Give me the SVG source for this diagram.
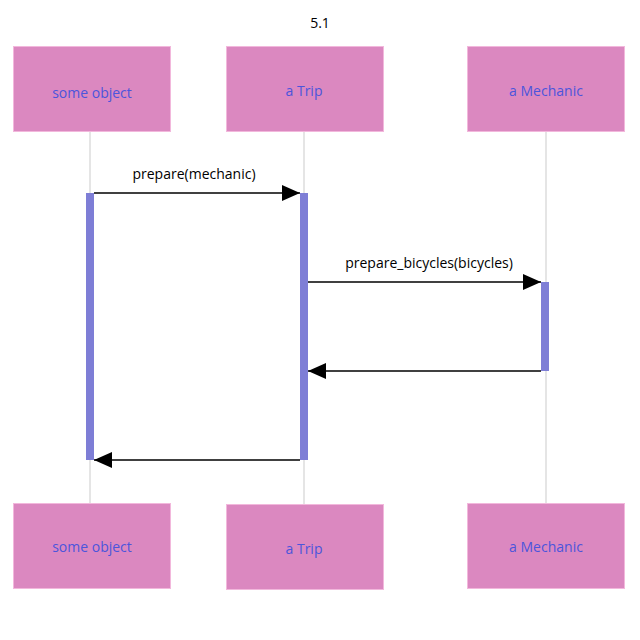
<svg xmlns="http://www.w3.org/2000/svg" width="640" height="640" viewBox="0 0 640 640">
<style>
.actor{fill:#DB88C0;stroke:#F2B8DC;stroke-width:1}
.atext{font-family:"Open Sans","Noto Sans",sans-serif;font-size:14px;fill:#4B55DC;text-anchor:middle;dominant-baseline:central}
.life{stroke:#DDDDDD;stroke-width:1.5}
.act{fill:#7E7ED6}
.msg{stroke:#000;stroke-width:1.3;fill:none}
.mtext{font-family:"Open Sans","Noto Sans",sans-serif;font-size:14px;fill:#000;text-anchor:middle}
.title{font-family:"Open Sans","Noto Sans",sans-serif;font-size:14px;fill:#000;text-anchor:middle}
</style>
<defs>
<marker id="ah" markerWidth="18" markerHeight="16" refX="18" refY="8" orient="auto" markerUnits="userSpaceOnUse">
<path d="M0,0 L18,8 L0,16 Z" fill="#000"/>
</marker>
</defs>
<rect width="640" height="640" fill="#fff"/>
<text class="title" x="320" y="28">5.1</text>
<g id="lifelines">
<line class="life" x1="90" y1="131" x2="90" y2="503"/>
<line class="life" x1="304" y1="131" x2="304" y2="504"/>
<line class="life" x1="546" y1="131" x2="546" y2="503"/>
</g>
<g id="activations">
<rect class="act" x="86" y="193" width="8" height="267"/>
<rect class="act" x="300" y="193" width="8" height="267"/>
<rect class="act" x="541" y="282" width="8" height="89"/>
</g>
<g id="node-someobject-top"><rect class="actor" x="13.5" y="46.5" width="157" height="85"/><text class="atext" x="92" y="92">some object</text></g>
<g id="node-trip-top"><rect class="actor" x="226.5" y="46.5" width="157" height="85"/><text class="atext" x="304" y="90">a Trip</text></g>
<g id="node-mechanic-top"><rect class="actor" x="467.5" y="46.5" width="157" height="85"/><text class="atext" x="546" y="90">a Mechanic</text></g>
<g id="node-someobject-bottom"><rect class="actor" x="13.5" y="503.5" width="157" height="85"/><text class="atext" x="92" y="546">some object</text></g>
<g id="node-trip-bottom"><rect class="actor" x="226.5" y="504.5" width="157" height="85"/><text class="atext" x="304" y="548">a Trip</text></g>
<g id="node-mechanic-bottom"><rect class="actor" x="467.5" y="503.5" width="157" height="85"/><text class="atext" x="546" y="546">a Mechanic</text></g>
<g id="connectors">
<line class="msg" x1="94" y1="193" x2="300" y2="193" marker-end="url(#ah)"/>
<text class="mtext" x="194" y="179">prepare(mechanic)</text>
<line class="msg" x1="308" y1="282" x2="541" y2="282" marker-end="url(#ah)"/>
<text class="mtext" x="429" y="268">prepare_bicycles(bicycles)</text>
<line class="msg" x1="541" y1="371" x2="308" y2="371" marker-end="url(#ah)"/>
<line class="msg" x1="300" y1="460" x2="94" y2="460" marker-end="url(#ah)"/>
</g>
</svg>
